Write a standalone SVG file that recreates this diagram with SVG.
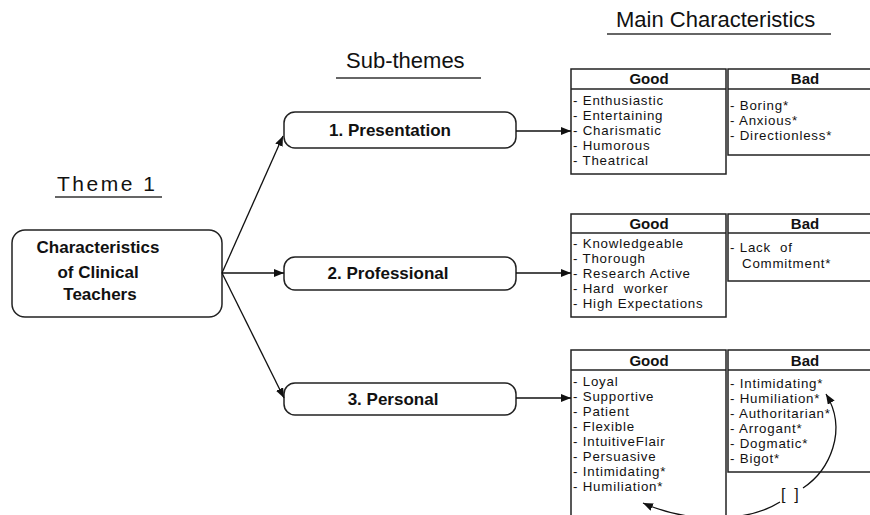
<svg xmlns="http://www.w3.org/2000/svg" width="870" height="515" viewBox="0 0 870 515">
<defs>
<marker id="arr" viewBox="0 0 10 8" refX="10" refY="4" markerWidth="10" markerHeight="8" markerUnits="userSpaceOnUse" orient="auto">
<path d="M0,0 L10,4 L0,8 z" fill="#111"/>
</marker>
<style>
.title{font-family:"Liberation Sans",Arial,sans-serif;font-size:22px;fill:#111}
.ul{stroke:#333;stroke-width:1.5}
.node{fill:#fff;stroke:#222;stroke-width:1.5}
.nt{font-family:"Liberation Sans",Arial,sans-serif;font-size:17px;font-weight:bold;fill:#111;text-anchor:middle}
.box{fill:#fff;stroke:#222;stroke-width:1.5}
.hd{font-family:"Liberation Sans",Arial,sans-serif;font-size:15px;font-weight:bold;fill:#111;text-anchor:middle}
.it{font-family:"Liberation Sans",Arial,sans-serif;font-size:13.3px;letter-spacing:0.8px;fill:#111;white-space:pre}
.ln{stroke:#111;stroke-width:1.3;fill:none}
</style>
</defs>
<rect width="870" height="515" fill="#fff"/>

<g id="titles">
<text class="title" x="616" y="27">Main Characteristics</text>
<line class="ul" x1="607" y1="34" x2="831" y2="34"/>
<text class="title" x="346" y="68">Sub-themes</text>
<line class="ul" x1="336" y1="78" x2="481" y2="78"/>
<text class="title" x="57" y="191" style="font-size:21px;letter-spacing:2.5px">Theme 1</text>
<line class="ul" x1="55" y1="197" x2="162" y2="197"/>
</g>

<g id="theme">
<rect class="node" x="12" y="230" width="210" height="87" rx="13"/>
<text class="nt" x="98" y="253">Characteristics</text>
<text class="nt" x="98" y="278">of Clinical</text>
<text class="nt" x="100" y="300">Teachers</text>
</g>

<g id="presentation">
<rect class="node" x="284" y="112" width="232" height="36" rx="11"/>
<text class="nt" x="390" y="136">1. Presentation</text>
</g>
<g id="professional">
<rect class="node" x="284" y="257" width="232" height="33" rx="11"/>
<text class="nt" x="388" y="279">2. Professional</text>
</g>
<g id="personal">
<rect class="node" x="284" y="383" width="232" height="32" rx="11"/>
<text class="nt" x="393" y="405">3. Personal</text>
</g>

<g id="box1">
<rect class="box" x="571" y="69" width="155" height="105"/>
<line class="box" x1="571" y1="89" x2="726" y2="89"/>
<text class="hd" x="649" y="84">Good</text>
<text class="it" x="573" y="105">- Enthusiastic</text>
<text class="it" x="573" y="120">- Entertaining</text>
<text class="it" x="573" y="135">- Charismatic</text>
<text class="it" x="573" y="150">- Humorous</text>
<text class="it" x="573" y="165">- Theatrical</text>
<rect class="box" x="728" y="69" width="154" height="86"/>
<line class="box" x1="728" y1="89" x2="882" y2="89"/>
<text class="hd" x="805" y="84">Bad</text>
<text class="it" x="730" y="110">- Boring*</text>
<text class="it" x="730" y="125">- Anxious*</text>
<text class="it" x="730" y="140">- Directionless*</text>
</g>

<g id="box2">
<rect class="box" x="571" y="214" width="155" height="103"/>
<line class="box" x1="571" y1="233" x2="726" y2="233"/>
<text class="hd" x="649" y="229">Good</text>
<text class="it" x="573" y="248">- Knowledgeable</text>
<text class="it" x="573" y="263">- Thorough</text>
<text class="it" x="573" y="278">- Research Active</text>
<text class="it" x="573" y="293">- Hard  worker</text>
<text class="it" x="573" y="308">- High Expectations</text>
<rect class="box" x="728" y="214" width="154" height="67"/>
<line class="box" x1="728" y1="233" x2="882" y2="233"/>
<text class="hd" x="805" y="229">Bad</text>
<text class="it" x="730" y="252">- Lack  of</text>
<text class="it" x="742" y="268">Commitment*</text>
</g>

<g id="box3">
<rect class="box" x="571" y="350" width="155" height="175"/>
<line class="box" x1="571" y1="370" x2="726" y2="370"/>
<text class="hd" x="649" y="366">Good</text>
<text class="it" x="573" y="386">- Loyal</text>
<text class="it" x="573" y="401">- Supportive</text>
<text class="it" x="573" y="416">- Patient</text>
<text class="it" x="573" y="431">- Flexible</text>
<text class="it" x="573" y="446">- IntuitiveFlair</text>
<text class="it" x="573" y="461">- Persuasive</text>
<text class="it" x="573" y="476">- Intimidating*</text>
<text class="it" x="573" y="491">- Humiliation*</text>
<rect class="box" x="728" y="350" width="154" height="122"/>
<line class="box" x1="728" y1="370" x2="882" y2="370"/>
<text class="hd" x="805" y="366">Bad</text>
<text class="it" x="730" y="388">- Intimidating*</text>
<text class="it" x="730" y="403">- Humiliation*</text>
<text class="it" x="730" y="418">- Authoritarian*</text>
<text class="it" x="730" y="433">- Arrogant*</text>
<text class="it" x="730" y="448">- Dogmatic*</text>
<text class="it" x="730" y="463">- Bigot*</text>
<text class="it" x="781" y="500" style="font-size:16px;letter-spacing:0">[  ]</text>
</g>

<g id="connectors">
<line class="ln" x1="222" y1="273" x2="283" y2="136" marker-end="url(#arr)"/>
<line class="ln" x1="222" y1="273" x2="284" y2="273" marker-end="url(#arr)"/>
<line class="ln" x1="222" y1="273" x2="284" y2="398" marker-end="url(#arr)"/>
<line class="ln" x1="516" y1="131" x2="571" y2="131" marker-end="url(#arr)"/>
<line class="ln" x1="516" y1="273" x2="571" y2="273" marker-end="url(#arr)"/>
<line class="ln" x1="516" y1="398" x2="571" y2="398" marker-end="url(#arr)"/>
<path class="ln" d="M803 488 C830 470 848 430 826 394" marker-end="url(#arr)"/>
<path class="ln" d="M780 502 C748 522 690 524 643 503" marker-end="url(#arr)"/>
</g>
</svg>
